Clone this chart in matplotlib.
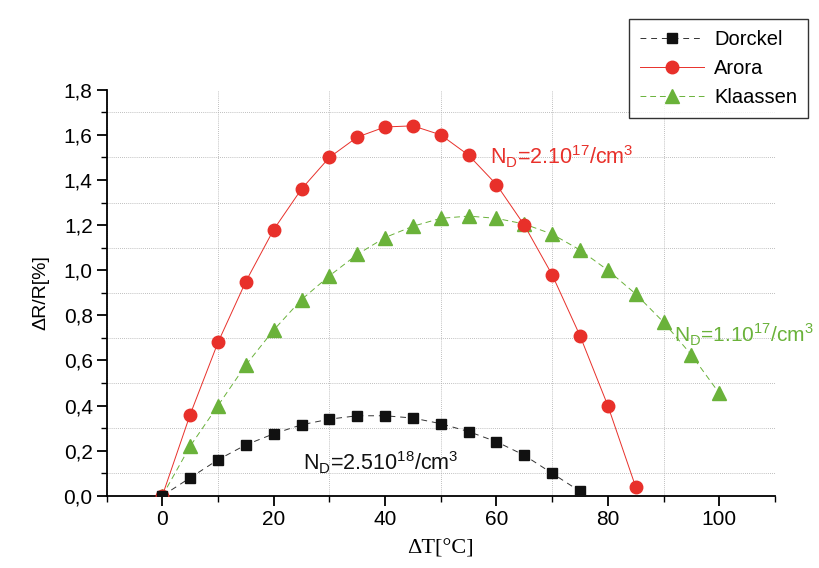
import matplotlib
matplotlib.use("Agg")
import matplotlib.pyplot as plt
from matplotlib.ticker import MultipleLocator, FuncFormatter

x_dorckel = [0, 5, 10, 15, 20, 25, 30, 35, 40, 45, 50, 55, 60, 65, 70, 75]
y_dorckel = [0.0, 0.08, 0.16, 0.226, 0.275, 0.315, 0.34, 0.355, 0.355, 0.345, 0.32, 0.285, 0.24, 0.18, 0.10, 0.02]

x_arora = [0, 5, 10, 15, 20, 25, 30, 35, 40, 45, 50, 55, 60, 65, 70, 75, 80, 85]
y_arora = [0.0, 0.36, 0.68, 0.95, 1.18, 1.36, 1.50, 1.59, 1.635, 1.64, 1.60, 1.51, 1.38, 1.20, 0.98, 0.71, 0.40, 0.04]

x_klaassen = [0, 5, 10, 15, 20, 25, 30, 35, 40, 45, 50, 55, 60, 65, 70, 75, 80, 85, 90, 95, 100]
y_klaassen = [0.0, 0.22, 0.40, 0.58, 0.735, 0.87, 0.975, 1.07, 1.145, 1.195, 1.23, 1.24, 1.23, 1.205,
              1.16, 1.09, 1.00, 0.895, 0.77, 0.625, 0.455]

RED = "#e8302a"
GREEN = "#6ab23a"
BLACK = "#111111"

plt.rcParams['font.family'] = ['Liberation Sans', 'DejaVu Sans']

fig = plt.figure(figsize=(8.2, 5.68), dpi=100)
ax = fig.add_axes([0.130, 0.127, 0.815, 0.715])

ax.plot(x_klaassen, y_klaassen, color=GREEN, lw=0.7, ls=(0, (6, 4)), marker='^', ms=10,
        mfc=GREEN, mec=GREEN, label='Klaassen', zorder=3)
ax.plot(x_arora, y_arora, color=RED, lw=0.7, ls='-', marker='o', ms=9,
        mfc=RED, mec=RED, label='Arora', zorder=4)
ax.plot(x_dorckel, y_dorckel, color='#333333', lw=0.7, ls=(0, (6, 5)), marker='s', ms=7.5,
        mfc=BLACK, mec=BLACK, label='Dorckel', zorder=5)

ax.set_xlim(-10, 110)
ax.set_ylim(0, 1.8)
ax.xaxis.set_major_locator(MultipleLocator(20))
ax.xaxis.set_minor_locator(MultipleLocator(10))
ax.yaxis.set_major_locator(MultipleLocator(0.2))
ax.yaxis.set_minor_locator(MultipleLocator(0.1))
ax.yaxis.set_major_formatter(FuncFormatter(lambda v, p: f"{v:.1f}".replace('.', ',')))

ax.grid(which='minor', ls=(0, (1, 1.5)), color='#aaaaaa', lw=0.6)
ax.grid(which='major', visible=False)

for s in ['top', 'right']:
    ax.spines[s].set_visible(False)
for s in ['left', 'bottom']:
    ax.spines[s].set_linewidth(1.3)
ax.tick_params(which='major', direction='out', length=7, width=1.3, labelsize=15, pad=3)
ax.tick_params(which='minor', direction='out', length=4, width=1.0)

ax.set_xlabel('ΔT[°C]', family=['Liberation Serif', 'DejaVu Serif'], fontsize=16, labelpad=8)
ax.set_ylabel('ΔR/R[%]', fontsize=14, labelpad=10)

ax.text(58.9, 1.47, r'N$_\mathregular{D}$=2.10$^\mathregular{17}$/cm$^\mathregular{3}$', color=RED, fontsize=15.5)
ax.text(91.8, 0.68, r'N$_\mathregular{D}$=1.10$^\mathregular{17}$/cm$^\mathregular{3}$', color=GREEN, fontsize=15)
ax.text(25.2, 0.115, r'N$_\mathregular{D}$=2.510$^\mathregular{18}$/cm$^\mathregular{3}$', color=BLACK, fontsize=15.5)

h, l = ax.get_legend_handles_labels()
order = [2, 1, 0]
leg = fig.legend([h[i] for i in order], [l[i] for i in order], loc='upper right',
                 bbox_to_anchor=(0.998, 0.985), fontsize=14.5, frameon=True, fancybox=False,
                 edgecolor='black', numpoints=1, handlelength=3.2, borderpad=0.55,
                 labelspacing=0.5, handletextpad=0.5)
leg.get_frame().set_linewidth(1.0)

fig.savefig('out.png', dpi=100)
